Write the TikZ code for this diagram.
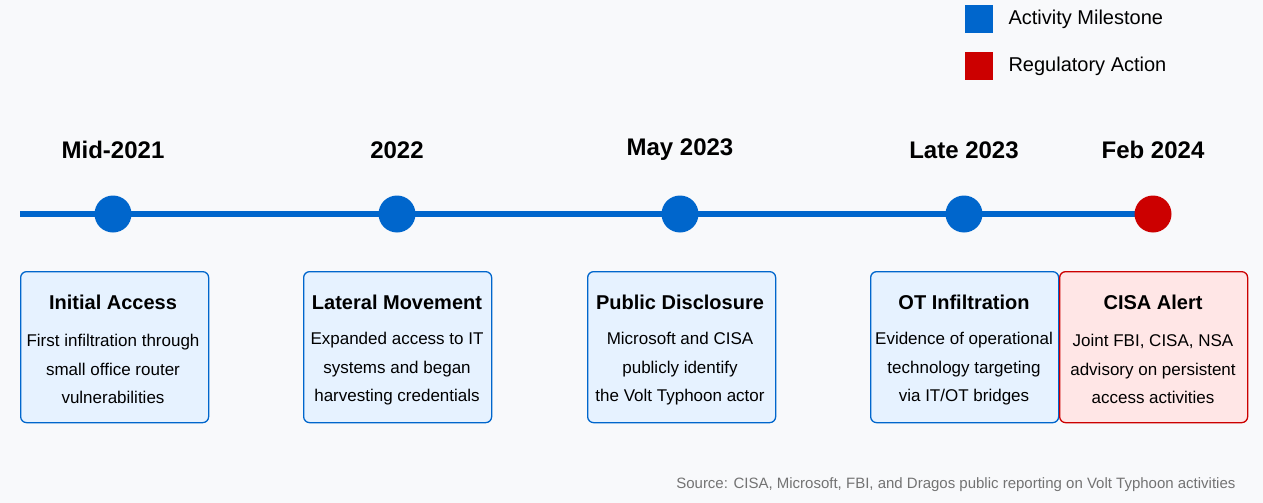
\documentclass[tikz,border=0pt]{standalone}
\usepackage{fontspec}
\setmainfont{Liberation Sans}
\definecolor{bg}{HTML}{F8F9FB}
\definecolor{blu}{HTML}{0066CC}
\definecolor{rd}{HTML}{CC0000}
\definecolor{bfill}{HTML}{E6F2FF}
\definecolor{rfill}{HTML}{FFE6E6}
\begin{document}
\begin{tikzpicture}[x=1pt,y=-1pt,
  year/.style={font=\fontsize{24}{28}\selectfont\bfseries},
  dot/.style={circle,minimum size=37pt,inner sep=0pt},
  card/.style={draw=blu,fill=bfill,line width=1.3pt,rounded corners=6pt,minimum width=188pt,minimum height=151pt,anchor=north west},
  rcard/.style={card,draw=rd,fill=rfill},
  ttl/.style={font=\fontsize{20}{24}\selectfont\bfseries},
  body/.style={font=\fontsize{17}{28.5}\selectfont,align=center},
  lg/.style={font=\fontsize{20}{24}\selectfont,anchor=west}]
\fill[bg] (0,0) rectangle (1263,503);
\useasboundingbox (0,0) rectangle (1263,503);
% legend
\node[fill=blu,minimum size=28pt,inner sep=0pt] (lb) at (979,19) {};
\node[lg] (lbt) at (1005,19) {Activity Milestone};
\node[fill=rd,minimum size=28pt,inner sep=0pt] (lr) at (979,66) {};
\node[lg] (lrt) at (1005,66) {Regulatory Action};
% line
\coordinate (ls) at (20,214);
\coordinate (le) at (1153,214);
\draw[blu,line width=6pt] (ls) -- (le);
\foreach \x/\n/\y in {113/a/Mid-2021,397/b/2022,680/c/May 2023,964/d/Late 2023}{
  \node[dot,fill=blu] (d\n) at (\x,214) {};
  \node[year] (y\n) at (\x,150) {\y};
}
\node[dot,fill=rd] (de) at (1153,214) {};
\node[year] (ye) at (1153,150) {Feb 2024};
% cards
\node[card] (ca) at (20,271) {};
\node[ttl] at (113,302) {Initial Access};
\node[body] at (113,369) {First infiltration through\\small office router\\vulnerabilities};
\node[card] (cb) at (303,271) {};
\node[ttl] at (397,302) {Lateral Movement};
\node[body] at (397,369) {Expanded access to IT\\systems and began\\harvesting credentials};
\node[card] (cc) at (587,271) {};
\node[ttl] at (680,302) {Public Disclosure};
\node[body] at (680,369) {Microsoft and CISA\\publicly identify\\the Volt Typhoon actor};
\node[card] (cd) at (870,271) {};
\node[ttl] at (964,302) {OT Infiltration};
\node[body] at (964,369) {Evidence of operational\\technology targeting\\via IT/OT bridges};
\node[rcard] (ce) at (1059,271) {};
\node[ttl] at (1153,302) {CISA Alert};
\node[body] at (1153,369) {Joint FBI, CISA, NSA\\advisory on persistent\\access activities};
\node[font=\fontsize{15}{18}\selectfont,text=gray!90!black,anchor=east] (src) at (1239,485) {Source: CISA, Microsoft, FBI, and Dragos public reporting on Volt Typhoon activities};
\end{tikzpicture}
\end{document}
